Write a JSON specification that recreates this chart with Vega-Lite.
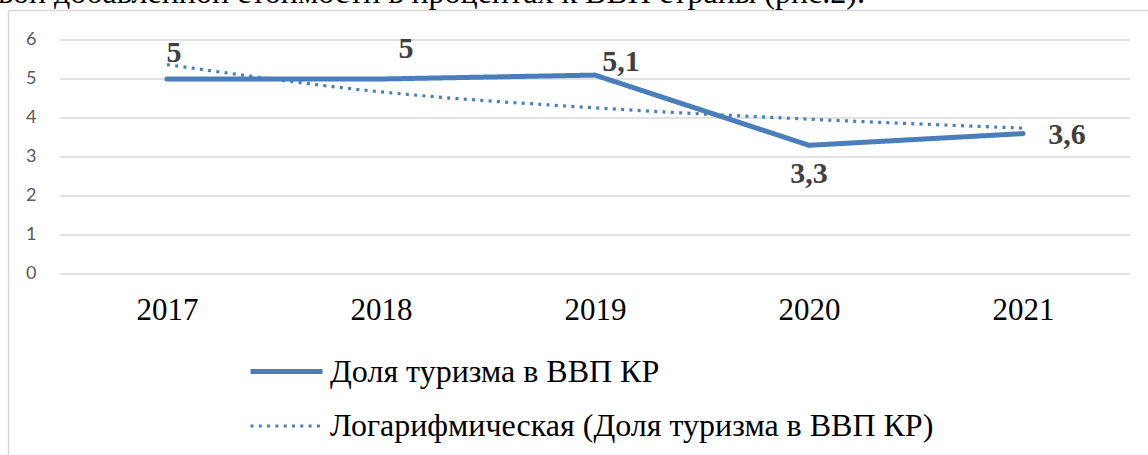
{
  "$schema": "https://vega.github.io/schema/vega-lite/v6.json",
  "width": 1140,
  "height": 445,
  "autosize": "none",
  "padding": {"left": 8, "top": 10, "right": 0, "bottom": 0},
  "background": "white",
  "title": {
    "text": "вой добавленной стоимости в процентах к ВВП страны (рис.2).",
    "anchor": "start",
    "frame": "group",
    "offset": 0,
    "dx": -10,
    "font": "Liberation Serif",
    "fontSize": 32,
    "fontWeight": "normal",
    "color": "#000000"
  },
  "config": {
    "view": {"stroke": null},
    "locale": {"number": {"decimal": ",", "thousands": " ", "grouping": [3], "currency": ["", ""]}}
  },
  "datasets": {
    "grid": [{"v": 0}, {"v": 1}, {"v": 2}, {"v": 3}, {"v": 4}, {"v": 5}, {"v": 6}],
    "main": [
      {"year": 2017, "value": 5, "series": "Доля туризма в ВВП КР"},
      {"year": 2018, "value": 5, "series": "Доля туризма в ВВП КР"},
      {"year": 2019, "value": 5.1, "series": "Доля туризма в ВВП КР"},
      {"year": 2020, "value": 3.3, "series": "Доля туризма в ВВП КР"},
      {"year": 2021, "value": 3.6, "series": "Доля туризма в ВВП КР"}
    ],
    "trend": [
      {"year": 2017, "value": 5.37, "series": "Логарифмическая (Доля туризма в ВВП КР)"},
      {"year": 2018, "value": 4.67, "series": "Логарифмическая (Доля туризма в ВВП КР)"},
      {"year": 2019, "value": 4.26, "series": "Логарифмическая (Доля туризма в ВВП КР)"},
      {"year": 2020, "value": 3.97, "series": "Логарифмическая (Доля туризма в ВВП КР)"},
      {"year": 2021, "value": 3.74, "series": "Логарифмическая (Доля туризма в ВВП КР)"}
    ]
  },
  "resolve": {"axis": {"x": "independent"}},
  "layer": [
    {
      "data": {"name": "grid"},
      "mark": {"type": "rule", "color": "#d9d9d9", "strokeWidth": 1.5},
      "encoding": {
        "y": {
          "field": "v", "type": "quantitative",
          "scale": {"domain": [-4.641, 6.769], "nice": false, "zero": false},
          "axis": {"orient": "left", "values": [0, 1, 2, 3, 4, 5, 6], "domain": true, "domainColor": "#d9d9d9", "domainWidth": 1.5, "ticks": false, "tickSize": 0, "grid": false, "labelPadding": -28, "labelAlign": "right", "labelFont": "Lato", "labelFontSize": 18, "labelColor": "#595959", "title": null}
        },
        "x": {
          "datum": 2016.5, "type": "quantitative",
          "scale": {"domain": [2016.257, 2021.584], "nice": false, "zero": false},
          "axis": {"orient": "top", "domain": true, "domainColor": "#d9d9d9", "domainWidth": 1.5, "labels": false, "ticks": false, "grid": false, "title": null}
        },
        "x2": {"datum": 2021.5}
      }
    },
    {
      "data": {"name": "main"},
      "mark": {"type": "line", "strokeCap": "round", "strokeJoin": "round"},
      "encoding": {
        "x": {
          "field": "year", "type": "quantitative",
          "scale": {"domain": [2016.257, 2021.584], "nice": false, "zero": false},
          "axis": {"orient": "bottom", "offset": -160, "values": [2017, 2018, 2019, 2020, 2021], "format": "d", "domain": false, "ticks": false, "tickSize": 0, "grid": false, "labelPadding": 0, "labelFont": "Liberation Serif", "labelFontSize": 31, "labelColor": "#000000", "labelFlush": false, "title": null}
        },
        "y": {"field": "value", "type": "quantitative", "scale": {"domain": [-4.641, 6.769], "nice": false, "zero": false}},
        "color": {
          "field": "series", "type": "nominal",
          "scale": {"domain": ["Доля туризма в ВВП КР", "Логарифмическая (Доля туризма в ВВП КР)"], "range": ["#4a7ebb", "#4a7ebb"]},
          "legend": {"orient": "none", "legendX": 240, "legendY": 323, "title": null, "symbolType": "stroke", "symbolSize": 5184, "labelFont": "Liberation Serif", "labelFontSize": 32, "labelColor": "#000000", "labelOffset": 5, "rowPadding": -15, "direction": "vertical", "labelLimit": 0, "padding": 0}
        },
        "strokeDash": {
          "field": "series", "type": "nominal",
          "scale": {"domain": ["Доля туризма в ВВП КР", "Логарифмическая (Доля туризма в ВВП КР)"], "range": [[1, 0], [3, 5.3]]},
          "legend": {"orient": "none", "legendX": 240, "legendY": 323, "title": null, "symbolType": "stroke", "symbolSize": 5184, "labelFont": "Liberation Serif", "labelFontSize": 32, "labelColor": "#000000", "labelOffset": 5, "rowPadding": -15, "direction": "vertical", "labelLimit": 0, "padding": 0}
        },
        "strokeWidth": {
          "field": "series", "type": "nominal",
          "scale": {"domain": ["Доля туризма в ВВП КР", "Логарифмическая (Доля туризма в ВВП КР)"], "range": [5, 3.2]},
          "legend": {"orient": "none", "legendX": 240, "legendY": 323, "title": null, "symbolType": "stroke", "symbolSize": 5184, "labelFont": "Liberation Serif", "labelFontSize": 32, "labelColor": "#000000", "labelOffset": 5, "rowPadding": -15, "direction": "vertical", "labelLimit": 0, "padding": 0}
        }
      }
    },
    {
      "data": {"name": "trend"},
      "mark": {"type": "line", "interpolate": "monotone", "strokeCap": "butt"},
      "encoding": {
        "x": {"field": "year", "type": "quantitative", "scale": {"domain": [2016.257, 2021.584], "nice": false, "zero": false}, "axis": null},
        "y": {"field": "value", "type": "quantitative", "scale": {"domain": [-4.641, 6.769], "nice": false, "zero": false}},
        "color": {"field": "series", "type": "nominal"},
        "strokeDash": {"field": "series", "type": "nominal"},
        "strokeWidth": {"field": "series", "type": "nominal"}
      }
    },
    {
      "data": {"name": "main"},
      "transform": [{"filter": "datum.year == 2017"}],
      "mark": {"type": "text", "dx": 7, "dy": -26, "align": "center", "baseline": "middle", "font": "Liberation Serif", "fontSize": 30, "fontWeight": "bold", "color": "#404040"},
      "encoding": {
        "x": {"field": "year", "type": "quantitative", "axis": null},
        "y": {"field": "value", "type": "quantitative"},
        "text": {"field": "value", "type": "quantitative", "format": ".1~f"}
      }
    },
    {
      "data": {"name": "main"},
      "transform": [{"filter": "datum.year == 2018"}],
      "mark": {"type": "text", "dx": 25, "dy": -29.5, "align": "center", "baseline": "middle", "font": "Liberation Serif", "fontSize": 30, "fontWeight": "bold", "color": "#404040"},
      "encoding": {
        "x": {"field": "year", "type": "quantitative", "axis": null},
        "y": {"field": "value", "type": "quantitative"},
        "text": {"field": "value", "type": "quantitative", "format": ".1~f"}
      }
    },
    {
      "data": {"name": "main"},
      "transform": [{"filter": "datum.year == 2019"}],
      "mark": {"type": "text", "dx": 26, "dy": -13.5, "align": "center", "baseline": "middle", "font": "Liberation Serif", "fontSize": 30, "fontWeight": "bold", "color": "#404040"},
      "encoding": {
        "x": {"field": "year", "type": "quantitative", "axis": null},
        "y": {"field": "value", "type": "quantitative"},
        "text": {"field": "value", "type": "quantitative", "format": ".1~f"}
      }
    },
    {
      "data": {"name": "main"},
      "transform": [{"filter": "datum.year == 2020"}],
      "mark": {"type": "text", "dx": 0, "dy": 29, "align": "center", "baseline": "middle", "font": "Liberation Serif", "fontSize": 30, "fontWeight": "bold", "color": "#404040"},
      "encoding": {
        "x": {"field": "year", "type": "quantitative", "axis": null},
        "y": {"field": "value", "type": "quantitative"},
        "text": {"field": "value", "type": "quantitative", "format": ".1~f"}
      }
    },
    {
      "data": {"name": "main"},
      "transform": [{"filter": "datum.year == 2021"}],
      "mark": {"type": "text", "dx": 44, "dy": 1.5, "align": "center", "baseline": "middle", "font": "Liberation Serif", "fontSize": 30, "fontWeight": "bold", "color": "#404040"},
      "encoding": {
        "x": {"field": "year", "type": "quantitative", "axis": null},
        "y": {"field": "value", "type": "quantitative"},
        "text": {"field": "value", "type": "quantitative", "format": ".1~f"}
      }
    }
  ]
}
